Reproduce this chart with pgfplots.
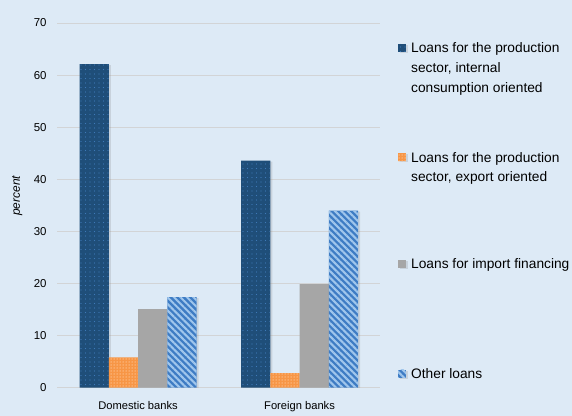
\documentclass[border=0pt]{standalone}
\usepackage{fontspec}
\setmainfont{Liberation Sans}
\usepackage{pgfplots}
\pgfplotsset{compat=1.18}
\usetikzlibrary{patterns,patterns.meta,shadows}

\definecolor{bg}{RGB}{221,234,246}
\definecolor{navy}{RGB}{31,78,121}
\definecolor{navydot}{RGB}{62,122,184}
\definecolor{orng}{RGB}{247,150,70}
\definecolor{orngdot}{RGB}{252,192,140}
\definecolor{grey}{RGB}{166,166,166}
\definecolor{sky}{RGB}{62,124,196}
\definecolor{skyline}{RGB}{160,198,236}
\definecolor{gridc}{RGB}{210,212,214}

% legend text: box of fixed height, text at its top
\newcommand\legtext[2]{\parbox[b][#1][t]{158bp}{#2}}

\begin{document}
\begin{tikzpicture}
\fill[bg] (-57.3bp,-28.3bp) rectangle (514.7bp,387.7bp);
\begin{axis}[
  at={(0,0)}, anchor=south west,
  scale only axis, width=323bp, height=364.7bp,
  ybar=0pt, bar width=0.181,
  xmin=-0.5, xmax=1.5, ymin=0, ymax=70,
  xtick={0,1}, xticklabels={Domestic banks, Foreign banks},
  ytick={0,10,...,70},
  axis line style={draw=none}, major tick length=0pt,
  ymajorgrids, grid style={gridc, line width=0.8bp},
  /pgf/number format/assume math mode=true,
  tick label style={font=\fontsize{11.5}{13}\selectfont, inner sep=0pt},
  yticklabel style={xshift=-10.5bp},
  xticklabel style={yshift=-13.5bp, font=\fontsize{11.2}{13}\selectfont},
  ylabel={percent},
  ylabel style={at={(axis description cs:-0.124,0.526)}, anchor=center,
    font=\itshape\fontsize{12}{14}\selectfont},
  legend style={at={(axis description cs:1,1)}, anchor=north west,
    xshift=17.7bp, yshift=-19bp, draw=none, fill=none, inner sep=0pt,
    row sep=0pt, font=\fontsize{13.8}{20}\selectfont,
    nodes={inner sep=0pt}, cells={anchor=north west},
    /tikz/every odd column/.append style={column sep=5bp}},
  legend image code/.code={\path (0bp,0bp); \path[#1,draw=none] (0bp,-1.5bp) rectangle (8bp,-9.5bp);},
]
\addplot[fill=navy, draw=none,
  drop shadow={shadow xshift=2bp, shadow yshift=-1bp, opacity=0.22},
  postaction={pattern={Dots[distance=4.5bp, radius=0.7bp]}, pattern color=navydot}]
  coordinates {(0,62.1) (1,43.6)};
\addlegendentry{\legtext{108bp}{Loans for the production\newline sector, internal\newline consumption oriented}}
\addplot[fill=orng, draw=none,
  drop shadow={shadow xshift=2bp, shadow yshift=-1bp, opacity=0.22},
  postaction={pattern={Dots[distance=3bp, radius=0.75bp]}, pattern color=orngdot}]
  coordinates {(0,5.8) (1,2.8)};
\addlegendentry{\legtext{105bp}{Loans for the production\newline sector, export oriented}}
\addplot[fill=grey, draw=none,
  drop shadow={shadow xshift=2bp, shadow yshift=-1bp, opacity=0.22}]
  coordinates {(0,15.1) (1,19.9)};
\addlegendentry{\legtext{108bp}{\mbox{Loans for import financing}}}
\addplot[fill=sky, draw=none,
  drop shadow={shadow xshift=2bp, shadow yshift=-1bp, opacity=0.22},
  postaction={pattern={Lines[angle=-45, distance=4.6bp, line width=2.1bp]}, pattern color=skyline}]
  coordinates {(0,17.4) (1,34.0)};
\addlegendentry{\legtext{20bp}{Other loans}}
\end{axis}
\end{tikzpicture}
\end{document}
